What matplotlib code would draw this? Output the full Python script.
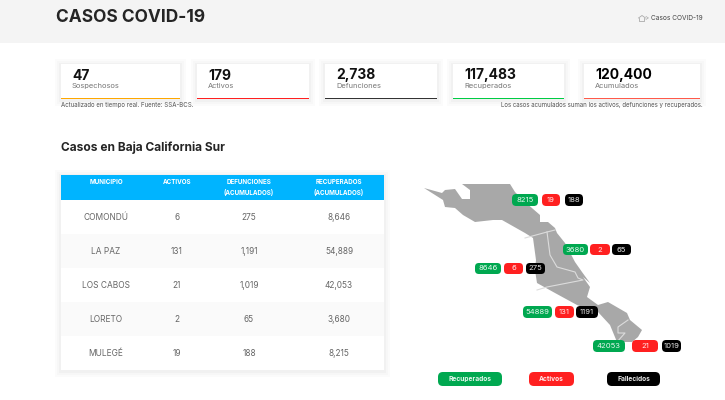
import matplotlib
matplotlib.use('Agg')
import matplotlib.pyplot as plt
from matplotlib.patches import Rectangle, FancyBboxPatch, Polygon

plt.rcParams['font.family'] = ['Inter', 'DejaVu Sans']

# resumen
card_values = ['47', '179', '2,738', '117,483', '120,400']
card_labels = ['Sospechosos', 'Activos', 'Defunciones', 'Recuperados', 'Acumulados']
card_colors = ['#ffa800', '#ff2020', '#333333', '#00cc44', '#ff5a4a']

# tabla
municipios = ['COMONDÚ', 'LA PAZ', 'LOS CABOS', 'LORETO', 'MULEGÉ']
activos = [6, 131, 21, 2, 19]
defunciones = [275, 1191, 1019, 65, 188]
recuperados = [8646, 54889, 42053, 3680, 8215]
columnas = [['MUNICIPIO'], ['ACTIVOS'], ['DEFUNCIONES', '(ACUMULADOS)'], ['RECUPERADOS', '(ACUMULADOS)']]

# silueta del mapa, en pixeles
mapa_x = [424, 442, 445, 455, 462, 470, 470, 462, 510, 515, 525, 540, 540, 548, 555,
          557, 565, 575, 582, 590, 583, 590, 587, 598, 608, 627, 630, 642, 638, 632,
          617, 610, 598, 577, 555, 537, 535, 536, 533, 525, 502, 493, 475, 463, 455,
          445, 443]
mapa_y = [188, 193, 190, 189, 199, 199, 190, 184, 184, 192, 202, 215, 222, 222, 228,
          233, 243, 262, 272, 283, 277, 287, 297, 305, 302, 313, 320, 330, 337, 342,
          342, 325, 312, 305, 293, 283, 270, 260, 238, 233, 220, 220, 222, 215, 208,
          207, 200]
borde1 = [(525, 238), (547, 232), (555, 230)]
borde2 = [(547, 232), (550, 255), (557, 267), (575, 272), (578, 278), (583, 280), (547, 287), (537, 290)]
borde3 = [(628, 320), (618, 327), (618, 333), (625, 333), (617, 342)]

fig = plt.figure(figsize=(7.25, 4), dpi=100)
ax = fig.add_axes([0, 0, 1, 1])
ax.set_xlim(0, 725)
ax.set_ylim(400, 0)
ax.axis('off')

def caja(x0, x1, y0, y1, color, z=1):
    ax.add_patch(Rectangle((x0, y0), x1 - x0, y1 - y0, fc=color, ec='none', zorder=z))

def sombra(x0, x1, y0, y1):
    for d, c in [(6, '#fbfbfb'), (4, '#f7f7f7'), (2, '#f1f1f1')]:
        caja(x0 - d, x1 + d, y0 - d + 1, y1 + d + 1, c, 1)

def pastilla(x0, x1, y0, y1, color, texto, tam=5.5, peso='normal'):
    r = (y1 - y0) * 0.35
    ax.add_patch(FancyBboxPatch((x0 + r, y0 + r), x1 - x0 - 2 * r, y1 - y0 - 2 * r,
                                boxstyle='round,pad=%f,rounding_size=%f' % (r, r),
                                fc=color, ec='none', zorder=5))
    ax.text((x0 + x1) / 2, (y0 + y1) / 2, texto, color='white', fontsize=tam, weight=peso,
            ha='center', va='center', zorder=6, alpha=0.9)

# encabezado
caja(0, 725, 0, 43, '#f4f4f4')
ax.text(56, 18, 'CASOS COVID-19', fontsize=12.5, weight='bold', color='#252525', va='center')
ax.text(703, 18, 'Casos COVID-19', fontsize=4.7, color='#444444', va='center', ha='right')
ax.text(646, 18, '>', fontsize=4.5, color='#999999', va='center', ha='center')
ax.plot([638.5, 642, 645.5], [18, 15.5, 18], color='#aaaaaa', lw=0.6)
caja(639.5, 644.5, 18, 21, 'none')
ax.plot([639.5, 639.5, 644.5, 644.5], [18, 21, 21, 18], color='#aaaaaa', lw=0.6)

# tarjetas
card_x0 = [61, 197, 325, 453, 584]
card_x1 = [180, 309, 437, 564, 700]
for i in range(5):
    sombra(card_x0[i], card_x1[i], 64, 99)
    caja(card_x0[i], card_x1[i], 64, 99, 'white', 2)
    caja(card_x0[i], card_x1[i], 97.5, 99, card_colors[i], 3)
    ax.text(card_x0[i] + 11, 75.5, card_values[i], fontsize=10, weight='bold',
            color='#111111' if i < 4 else 'black', va='center', zorder=4)
    ax.text(card_x0[i] + 11, 86, card_labels[i], fontsize=5.4, color='#777777', va='center', zorder=4)
ax.text(61, 105, 'Actualizado en tiempo real. Fuente: SSA-BCS.', fontsize=4.4, color='#555555', va='center')
ax.text(703, 105, 'Los casos acumulados suman los activos, defunciones y recuperados.',
        fontsize=4.4, color='#555555', va='center', ha='right')

# tabla
ax.text(61, 147.5, 'Casos en Baja California Sur', fontsize=8.6, weight='bold', color='#252525', va='center')
sombra(61, 384, 175, 370)
caja(61, 384, 175, 200, '#00b4ff', 2)
col_x = [106, 177, 249, 339]
for x, lineas in zip(col_x, columnas):
    for j, t in enumerate(lineas):
        ax.text(x, 182 + j * 10.5, t, fontsize=4.5, weight='bold', color='white',
                ha='center', va='center', zorder=3)
for i in range(5):
    y0 = 200 + i * 34
    caja(61, 384, y0, y0 + 34, '#fafafa' if i % 2 else 'white', 2)
    fila = [municipios[i], str(activos[i]), format(defunciones[i], ','), format(recuperados[i], ',')]
    for x, t in zip(col_x, fila):
        ax.text(x, y0 + 17, t, fontsize=6, color='#666666', ha='center', va='center', zorder=3)

# mapa
ax.add_patch(Polygon(list(zip(mapa_x, mapa_y)), closed=True, fc='#a8a8a8', ec='none', zorder=2))
for borde in [borde1, borde2, borde3]:
    ax.plot([p[0] for p in borde], [p[1] for p in borde], color='#dcdcdc', lw=0.8, zorder=3)

# pastillas: x0/x1 de verde, rojo y negro, y0, y1
pos_pastillas = [
    (475, 501, 504, 523, 526, 545, 263, 274),
    (523, 552, 555, 574, 576, 598, 306, 318),
    (593, 625, 632, 658, 662, 681, 340, 352),
    (563, 588, 590, 610, 612, 631, 244, 255),
    (512, 538, 542, 560, 565, 583, 194, 206),
]
for i, p in enumerate(pos_pastillas):
    pastilla(p[0], p[1], p[6], p[7], '#00a850', str(recuperados[i]))
    pastilla(p[2], p[3], p[6], p[7], '#ff2020', str(activos[i]))
    pastilla(p[4], p[5], p[6], p[7], '#000000', str(defunciones[i]))

# leyenda
pastilla(438, 502, 372, 386, '#00a850', 'Recuperados', 4.8, 'bold')
pastilla(529, 574, 372, 386, '#ff2020', 'Activos', 4.8, 'bold')
pastilla(607, 660, 372, 386, '#000000', 'Fallecidos', 4.8, 'bold')

fig.savefig('out.png', dpi=100)
